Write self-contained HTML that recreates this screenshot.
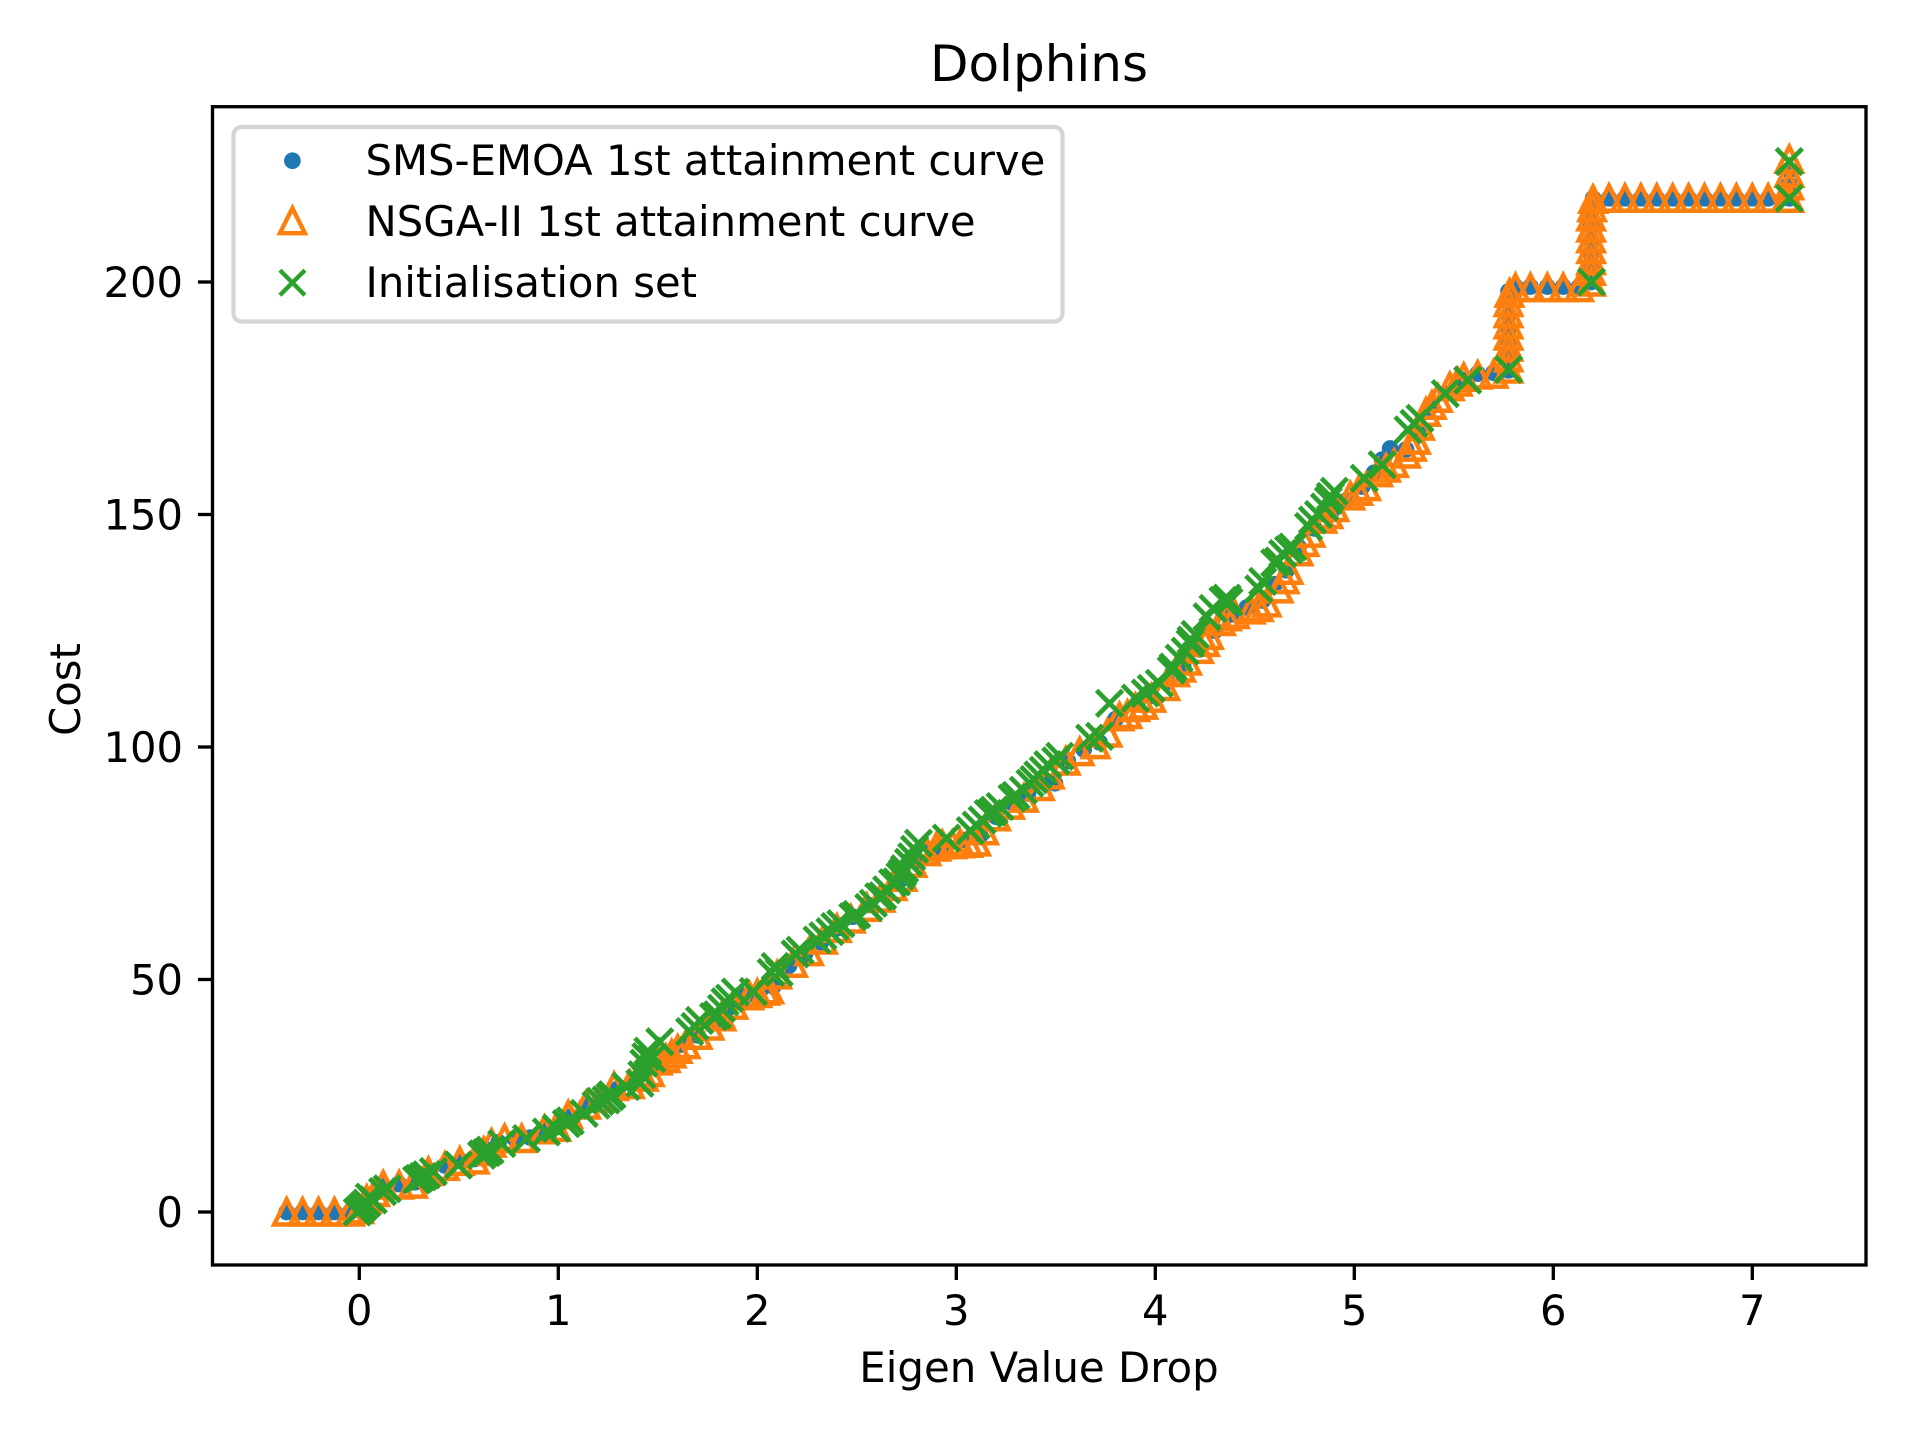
<!DOCTYPE html>
<html lang="en">
<head>
<meta charset="utf-8">
<title>Dolphins</title>
<style>
html,body{margin:0;padding:0;background:#fff;}
svg{display:block;}
text{font-family:"DejaVu Sans","Liberation Sans",sans-serif;fill:#000;}
</style>
</head>
<body>
<svg id="chart" xmlns="http://www.w3.org/2000/svg" width="1920" height="1440" viewBox="0 0 1920 1440">
  <rect x="0" y="0" width="1920" height="1440" fill="#fff"/>
  <g id="blue-layer"></g>
  <g id="orange-layer"></g>
  <g id="green-layer"></g>
  <rect x="212.5" y="106.7" width="1653.5" height="1158.3" fill="none" stroke="#000" stroke-width="3.33"/>
  <g id="x-ticks"></g>
  <g id="y-ticks"></g>
  <text x="1039" y="81" font-size="50" text-anchor="middle">Dolphins</text>
  <text x="1039" y="1382" font-size="41.9" text-anchor="middle">Eigen Value Drop</text>
  <text x="80" y="689.5" font-size="41.67" text-anchor="middle" transform="rotate(-90 80 689.5)">Cost</text>
  <g>
    <rect x="233.5" y="127" width="829" height="194.5" rx="8" ry="8" fill="#fff" fill-opacity="0.8" stroke="#d5d5d5" stroke-width="4.17"/>
    <circle cx="292.4" cy="160.7" r="6.25" fill="#1f77b4" stroke="#1f77b4" stroke-width="4.17"/>
    <path d="M292.4 208.2 L279.9 233.2 L304.9 233.2 Z" fill="none" stroke="#ff7f0e" stroke-width="4.4" stroke-miterlimit="10"/>
    <path d="M279.9 270.2 L304.9 295.2 M279.9 295.2 L304.9 270.2" fill="none" stroke="#2ca02c" stroke-width="4.3"/>
    <text x="365.5" y="175" font-size="41.75">SMS-EMOA 1st attainment curve</text>
    <text x="365.5" y="236" font-size="41.75">NSGA-II 1st attainment curve</text>
    <text x="365.5" y="297" font-size="41.75">Initialisation set</text>
  </g>
</svg>
<script>
var xTickLabels = [0, 1, 2, 3, 4, 5, 6, 7];
var yTickLabels = [0, 50, 100, 150, 200];

var blueX = [-0.365,-0.285,-0.205,-0.125,-0.046,0.02,0.06,0.12,0.2,0.28,0.35,0.43,0.51,0.58,0.64,0.7,0.78,0.86,0.93,1.0,1.06,1.14,1.22,1.3,1.38,1.46,1.54,1.62,1.7,1.78,1.86,1.94,2.02,2.08,2.16,2.24,2.32,2.4,2.48,2.56,2.64,2.72,2.8,2.88,2.95,3.04,3.12,3.2,3.28,3.36,3.44,3.496,3.56,3.64,3.72,3.8,3.91,3.98,4.06,4.14,4.22,4.3,4.38,4.46,4.54,4.6,4.66,4.72,4.8,4.88,4.96,5.04,5.1,5.14,5.18,5.26,5.32,5.38,5.46,5.54,5.62,5.7,5.775,5.775,5.775,5.775,5.775,5.775,5.775,5.81,5.885,5.97,6.05,6.13,6.19,6.19,6.19,6.19,6.19,6.19,6.2,6.28,6.36,6.44,6.52,6.6,6.68,6.76,6.84,6.92,7.0,7.08,7.186,7.186,7.186];
var blueY = [0,0,0,0,0,2,3.5,5.5,6,6.4,8.8,10,11,11.4,13.4,15,15.8,16,17.8,18.4,20.5,23,24.6,26.5,28,31.5,34,36,38,41,44,46.5,48,48.5,53,55.5,58,61,63.5,66,68.5,71.5,75.5,78,78.8,80,81,85,88,90,92.5,92.2,97,99.5,101,106,109.4,111,114,117.5,121,125,128.5,130,131.5,135,138,143,147,150,153,156,159,161.8,164.2,164,167.5,173,176,179,180.3,180.5,181,184,187,190,193,196,198,199,199,199,199,199,200,203,206,209,212,215,218,218,218,218,218,218,218,218,218,218,218,218,218,221,224];

var orangeX = [-0.365,-0.285,-0.205,-0.125,-0.046,0.0,0.037,0.08,0.12,0.2,0.27,0.347,0.43,0.505,0.58,0.625,0.665,0.73,0.816,0.93,0.99,1.05,1.14,1.21,1.28,1.36,1.43,1.5,1.57,1.64,1.7,1.76,1.82,1.88,1.96,2.04,2.1,2.18,2.26,2.33,2.4,2.47,2.55,2.62,2.68,2.73,2.78,2.85,2.93,3.02,3.1,3.14,3.2,3.27,3.34,3.42,3.47,3.55,3.62,3.7,3.76,3.82,3.9,3.98,4.05,4.1,4.16,4.22,4.27,4.33,4.4,4.48,4.56,4.62,4.67,4.72,4.78,4.84,4.9,4.98,5.06,5.12,5.2,5.26,5.31,5.33,5.36,5.42,5.48,5.55,5.62,5.7,5.775,5.775,5.775,5.775,5.775,5.775,5.775,5.78,5.81,5.885,5.97,6.05,6.13,6.19,6.19,6.19,6.19,6.19,6.19,6.19,6.195,6.2,6.28,6.36,6.44,6.52,6.6,6.68,6.76,6.84,6.92,7.0,7.08,7.17,7.186,7.186,7.186,7.186,1.46,1.54,1.6,2.0,2.06,2.9,2.98,3.06,3.86,3.94,4.13,4.25,4.36,4.52,4.65,4.75,4.87,5.02,5.16,5.29,5.39,5.52];
var orangeY = [0,0,0,0,0,0.5,2.7,4.2,5.8,5.8,6,8.7,9.8,10.9,11.2,13,14.8,15.8,15.8,17.7,18.2,20.9,23,24.5,27,27.4,29,32.5,34,36,38,40,42,44.5,46.5,47.5,51,53.5,56,58.5,61,63,65.5,67.5,70,72,75,77.5,79,79.2,79.6,82,85,87.5,89,91.5,94,97,99,100.5,103,106.5,108.5,110.5,113,116,118.5,121,124,127,128.5,129.5,131,134,138,142,146,149,151.5,154,156,159,161,163,166,169,172,175,177.5,179.5,180,180.2,181.3,183.7,186,188.4,190.8,193.2,195.6,197.6,198.8,198.8,198.8,198.8,198.8,200,202.3,204.6,207,209.3,211.6,214,216,217.8,218,218,218,218,218,218,218,218,218,218,218,218,218,220.7,223.4,226.4,30,33,35,47,47.8,78.5,79,79.3,107,109,117,122.5,128,130,136,144,150,155,160,164.5,173.5,178.5];

var greenX = [-0.01,0.005,0.02,0.037,0.07,0.117,0.288,0.32,0.338,0.372,0.498,0.615,0.64,0.657,0.716,0.84,0.94,0.99,1.04,1.13,1.21,1.24,1.27,1.41,1.42,1.43,1.44,1.45,1.51,1.66,1.687,1.71,1.8,1.82,1.838,1.86,1.89,1.98,2.09,2.11,2.215,2.3,2.33,2.365,2.39,2.48,2.56,2.583,2.61,2.65,2.68,2.717,2.74,2.76,2.776,2.79,2.81,2.95,3.1,3.13,3.16,3.19,3.22,3.3,3.337,3.37,3.41,3.437,3.46,3.52,3.67,3.72,3.77,3.95,3.98,4.02,4.09,4.12,4.15,4.175,4.2,4.26,4.29,4.36,4.37,4.54,4.6,4.64,4.67,4.69,4.77,4.79,4.85,4.87,4.88,4.9,5.05,5.14,5.27,5.3,5.33,5.457,5.57,5.775,6.192,7.186,7.186,0.05,0.14,0.3,0.62,1.06,1.19,1.26,1.34,1.47,1.78,2.07,2.19,2.42,2.5,2.63,2.7,2.73,3.07,3.18,3.28,3.39,3.5,3.9,4.08,4.18,4.34,4.52,4.62,4.82];
var greenY = [0,0.6,1.2,1.9,2.6,4.4,6.9,7.6,8,8.7,10.1,12.2,12.8,13.3,14.7,15.8,17.2,18,19,21.2,23.8,24.1,25.2,27.7,29.5,32,33.4,34.6,36.6,38.8,39.9,41.2,42.4,43.8,45.2,46,47.3,47.4,52.8,51.5,56.3,58.5,59.4,60.3,61.4,63.5,65.5,66.4,67.8,69.3,70.8,72.2,73.8,75.2,76.4,78,79.3,80.4,83.2,84.3,85.7,86.4,87.2,89.6,90.7,92.2,94,95,96.2,98,101.9,102.3,109.4,111.6,112.6,113.7,117.2,119.1,120.6,122.3,124.2,128,129.8,132,131.2,135.6,139.6,141.6,142.4,143,147.4,148.8,151.6,153,153.9,155,157.8,160.7,168.2,169.6,170.7,176,178.9,181.2,200,225.9,218,3.2,5,7.2,12.5,19.6,23,24.8,27,33,42,51.5,55.5,62,64,68,71,73,82,86,89,93,97,110.5,116.5,123,131.5,134,140,150];

var SVG_NS = 'http://www.w3.org/2000/svg';
function X(v) { return 359.3 + 199 * v; }
function Y(v) { return 1212 - 4.65 * v; }
function make(tag, parent) {
  var el = document.createElementNS(SVG_NS, tag);
  parent.appendChild(el);
  return el;
}

var xTickGroup = document.getElementById('x-ticks');
xTickLabels.forEach(function (v) {
  var line = make('line', xTickGroup);
  
  
  line.setAttribute('x1', X(v));
  line.setAttribute('x2', X(v));
  line.setAttribute('y1', 1265);
  line.setAttribute('y2', 1280);
  line.setAttribute('stroke', '#000');
  line.setAttribute('stroke-width', 3.33);
  var label = make('text', xTickGroup);
  
  
  label.setAttribute('x', X(v));
  label.setAttribute('y', 1325);
  label.setAttribute('font-size', 41.67);
  label.setAttribute('text-anchor', 'middle');
  label.textContent = String(v);
});

var yTickGroup = document.getElementById('y-ticks');
yTickLabels.forEach(function (v) {
  var line = make('line', yTickGroup);
  
  
  line.setAttribute('x1', 198);
  line.setAttribute('x2', 212.5);
  line.setAttribute('y1', Y(v));
  line.setAttribute('y2', Y(v));
  line.setAttribute('stroke', '#000');
  line.setAttribute('stroke-width', 3.33);
  var label = make('text', yTickGroup);
  
  
  label.setAttribute('x', 183);
  label.setAttribute('y', Y(v) + 15);
  label.setAttribute('font-size', 41.67);
  label.setAttribute('text-anchor', 'end');
  label.textContent = String(v);
});

var blueLayer = document.getElementById('blue-layer');
blueX.forEach(function (xv, i) {
  var c = make('circle', blueLayer);
  
  
  c.setAttribute('cx', X(xv));
  c.setAttribute('cy', Y(blueY[i]));
  c.setAttribute('r', 6.25);
  c.setAttribute('fill', '#1f77b4');
  c.setAttribute('stroke', '#1f77b4');
  c.setAttribute('stroke-width', 4.17);
});

var orangeLayer = document.getElementById('orange-layer');
orangeX.forEach(function (xv, i) {
  var px = X(xv), py = Y(orangeY[i]);
  var t = make('path', orangeLayer);
  
  
  t.setAttribute('d', 'M' + px + ' ' + (py - 12.5) + ' L' + (px - 12.5) + ' ' + (py + 12.5) + ' L' + (px + 12.5) + ' ' + (py + 12.5) + ' Z');
  t.setAttribute('fill', 'none');
  t.setAttribute('stroke', '#ff7f0e');
  t.setAttribute('stroke-width', 4.5);
  t.setAttribute('stroke-miterlimit', 10);
});

var greenLayer = document.getElementById('green-layer');
greenX.forEach(function (xv, i) {
  var px = X(xv), py = Y(greenY[i]);
  var m = make('path', greenLayer);
  
  
  m.setAttribute('d', 'M' + (px - 13) + ' ' + (py - 13) + ' L' + (px + 13) + ' ' + (py + 13) + ' M' + (px - 13) + ' ' + (py + 13) + ' L' + (px + 13) + ' ' + (py - 13));
  m.setAttribute('fill', 'none');
  m.setAttribute('stroke', '#2ca02c');
  m.setAttribute('stroke-width', 4.7);
});
</script>
</body>
</html>
